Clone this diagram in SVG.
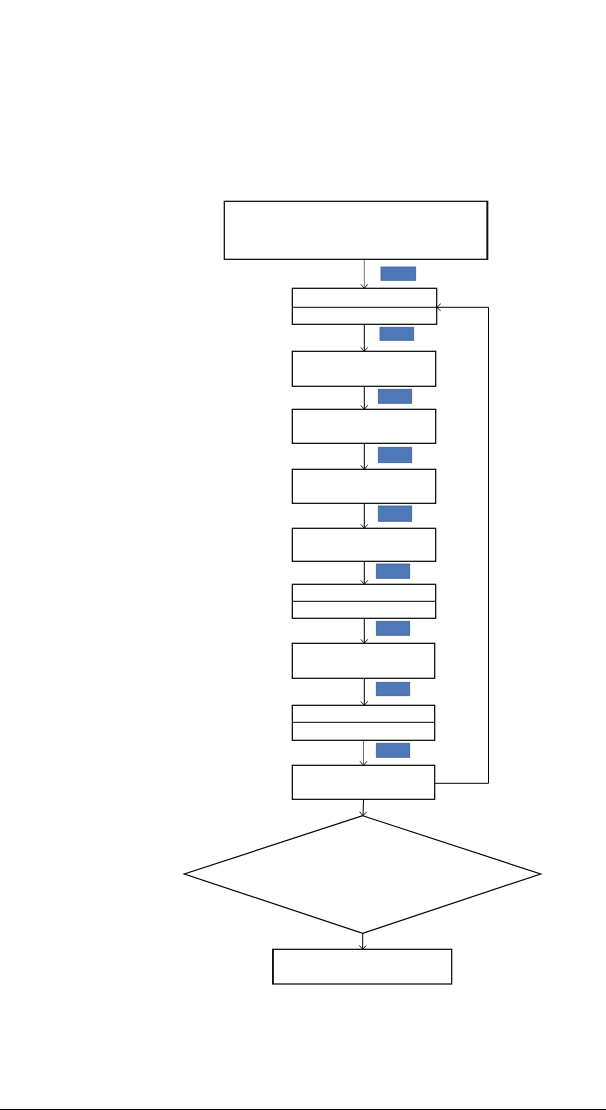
<svg xmlns="http://www.w3.org/2000/svg" width="606" height="1110" viewBox="0 0 606 1110">
<style>
.box{fill:#fff;stroke:#000;stroke-width:1.2}
.tag{fill:#4f78b8;stroke:#3c5f95;stroke-width:0.8}
.con{fill:none;stroke:#000;stroke-width:1}
.gray{stroke:#777}
</style>
<defs>
<marker id="arr" markerWidth="10" markerHeight="10" refX="5" refY="5" orient="auto" markerUnits="userSpaceOnUse">
<path d="M1,1.5 L5,5 L1,8.5" fill="none" stroke="#000" stroke-width="0.9"/>
</marker>
</defs>
<rect width="606" height="1110" fill="#fff"/>
<g id="connectors">
<line class="con gray" x1="364.3" y1="259.3" x2="364.3" y2="288.3" marker-end="url(#arr)"/>
<line class="con" x1="364.3" y1="324.3" x2="364.3" y2="351.3" marker-end="url(#arr)"/>
<line class="con" x1="364.3" y1="386.3" x2="364.3" y2="409.3" marker-end="url(#arr)"/>
<line class="con" x1="364.3" y1="443.3" x2="364.3" y2="469.3" marker-end="url(#arr)"/>
<line class="con" x1="364.3" y1="503.3" x2="364.3" y2="528.3" marker-end="url(#arr)"/>
<line class="con" x1="364.3" y1="561.3" x2="364.3" y2="584.3" marker-end="url(#arr)"/>
<line class="con" x1="364.3" y1="618.3" x2="364.3" y2="643.3" marker-end="url(#arr)"/>
<line class="con" x1="364.3" y1="678.3" x2="364.3" y2="705.3" marker-end="url(#arr)"/>
<line class="con gray" x1="363.5" y1="740.3" x2="363.5" y2="765.3" marker-end="url(#arr)"/>
<line class="con" x1="363.5" y1="799.3" x2="363" y2="815.7" marker-end="url(#arr)"/>
<line class="con" x1="362.7" y1="933.3" x2="362.7" y2="949.3" marker-end="url(#arr)"/>
<polyline class="con" points="434.7,783.3 488.5,783.3 488.5,307.3 436.7,307.3" marker-end="url(#arr)"/>
<line x1="0" y1="1109.5" x2="606" y2="1109.5" stroke="#000" stroke-width="1"/>
</g>
<g id="tags">
<rect class="tag" x="381" y="267" width="34.7" height="13.3"/>
<rect class="tag" x="380" y="327.3" width="33.7" height="13"/>
<rect class="tag" x="378.3" y="389.3" width="33.4" height="14"/>
<rect class="tag" x="378.3" y="447.3" width="33.4" height="15.4"/>
<rect class="tag" x="378.3" y="506" width="33.4" height="15.3"/>
<rect class="tag" x="376.3" y="564" width="33.4" height="14.3"/>
<rect class="tag" x="376.3" y="621.3" width="33.4" height="14"/>
<rect class="tag" x="376.3" y="682.3" width="33.4" height="13.4"/>
<rect class="tag" x="376.3" y="743.3" width="33.4" height="14"/>
</g>
<g id="n1"><rect class="box" x="224.3" y="201.3" width="263.4" height="58"/><line x1="486.9" y1="201.3" x2="486.9" y2="259.3" stroke="#000" stroke-width="1"/></g>
<g id="n2"><rect class="box" x="292.3" y="288.3" width="144.4" height="36"/><line class="con" x1="292.3" y1="307.3" x2="436.7" y2="307.3"/></g>
<g id="n3"><rect class="box" x="292.3" y="351.3" width="143.4" height="35"/></g>
<g id="n4"><rect class="box" x="292.3" y="409.3" width="143.4" height="34"/></g>
<g id="n5"><rect class="box" x="292.3" y="469.3" width="143.4" height="34"/></g>
<g id="n6"><rect class="box" x="292.3" y="528.3" width="143.4" height="33"/></g>
<g id="n7"><rect class="box" x="292.3" y="584.3" width="143.4" height="34"/><line class="con" x1="292.3" y1="601.3" x2="435.7" y2="601.3"/></g>
<g id="n8"><rect class="box" x="292.3" y="643.3" width="142.4" height="35"/></g>
<g id="n9"><rect class="box" x="292.3" y="705.3" width="142.4" height="35"/><line class="con" x1="292.3" y1="722.3" x2="434.7" y2="722.3"/></g>
<g id="n10"><rect class="box" x="292.3" y="765.3" width="142.4" height="34"/></g>
<g id="decision"><polygon class="box" points="362.7,815.7 540.7,874 362.7,933.3 184.3,874"/></g>
<g id="end"><rect class="box" x="272.7" y="949.3" width="179" height="34.7"/><line x1="273.3" y1="949.3" x2="273.3" y2="984" stroke="#000" stroke-width="1"/></g>
</svg>
